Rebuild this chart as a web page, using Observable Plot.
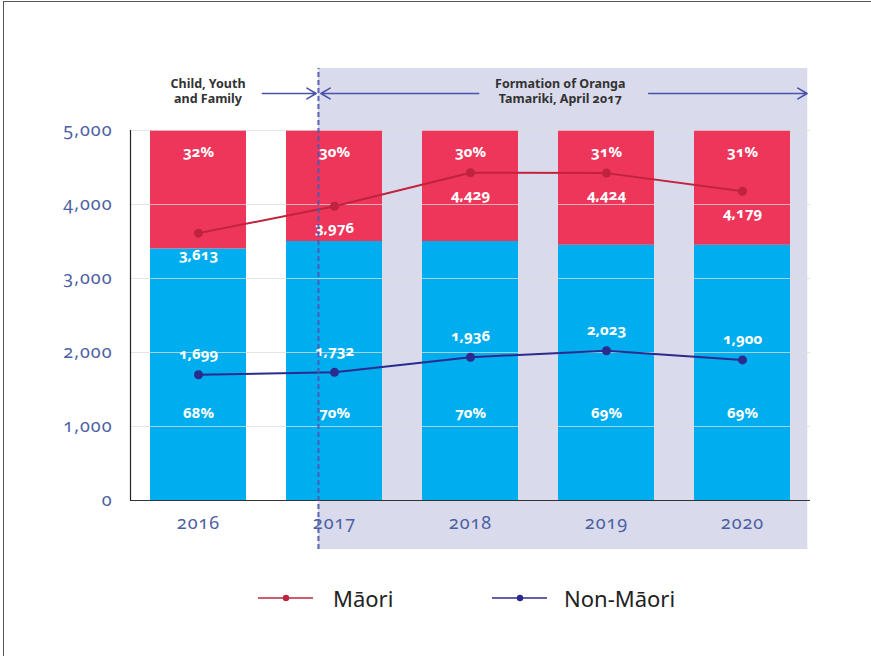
<!DOCTYPE html>
<html>
<head>
<meta charset="utf-8">
<script src="https://cdn.jsdelivr.net/npm/d3@7"></script>
<script src="https://cdn.jsdelivr.net/npm/@observablehq/plot@0.6"></script>
<style>
  html, body { margin: 0; padding: 0; background: #fff; }
  #wrap { position: relative; width: 871px; height: 656px; overflow: hidden; font-family: "Noto Sans", Lato, sans-serif; }
  #frame { position: absolute; left: 3px; top: 1px; width: 880px; height: 700px; border-left: 1.5px solid #555; border-top: 1.5px solid #555; pointer-events: none; }
  #chart svg { display: block; font-variant-numeric: oldstyle-nums; }
  #chart g[aria-label^="y-axis"], #chart g[aria-label^="x-axis"] { color: #4d5fa3; fill: #4d5fa3; font-size: 18px; letter-spacing: 1px; font-variant-numeric: oldstyle-nums; font-variant: oldstyle-nums; }
  #chart g[aria-label^="y-axis"] text, #chart g[aria-label^="x-axis"] text { font-variant-numeric: oldstyle-nums; }
  #legend { position: absolute; left: 0; top: 560px; width: 871px; height: 96px; }
  .item { position: absolute; top: 23px; display: flex; align-items: center; font-size: 22px; color: #222; }
</style>
</head>
<body>
<div id="wrap">
  <div id="chart"></div>
  <div id="legend"></div>
  <div id="frame"></div>
</div>
<script>
// ---- data ----
const years = [2016, 2017, 2018, 2019, 2020];
const maoriPct = [32, 30, 30, 31, 31];
const nonMaoriPct = [68, 70, 70, 69, 69];
const maoriCount = [3613, 3976, 4429, 4424, 4179];
const nonMaoriCount = [1699, 1732, 1936, 2023, 1900];
const yTicks = [0, 1000, 2000, 3000, 4000, 5000];
const barTotal = 5000;

// annotation data (positions on the year axis and count axis)
const changeYear = 2016.882;           // Oranga Tamariki formation marker
const shadeEnd = 2020.48;
const shadeTop = 5838, shadeBottom = -662;
const annotationLabels = [
  {x: 2016.07, y: 5540, text: "Child, Youth\nand Family"},
  {x: 2018.66, y: 5540, text: "Formation of Oranga\nTamariki, April 2017"}
];
const annotationArrows = [
  {x1: 2016.47, x2: 2016.865, y: 5500},
  {x1: 2018.06, x2: 2016.90, y: 5500},
  {x1: 2019.31, x2: 2020.475, y: 5500}
];

const colors = {
  red: "#ee355a", blue: "#00aeef", maori: "#c0243c", nonMaori: "#2b2b8f",
  shade: "#d9dbed", grid: "#dcdcdc", dash: "#4e58b0", arrow: "#4a52a8", axisText: "#4d5fa3"
};

const rows = years.map((year, i) => ({
  year,
  nonMaoriTop: nonMaoriPct[i] / 100 * barTotal,
  maoriPct: maoriPct[i],
  nonMaoriPct: nonMaoriPct[i],
  maori: maoriCount[i],
  nonMaori: nonMaoriCount[i]
}));
const fmt = d3.format(",");
const hasAxisMarks = typeof Plot.axisX === "function";

const axisMarks = hasAxisMarks ? [
  Plot.axisX({ticks: years, tickFormat: d => String(d), tickSize: 0, tickPadding: 16, label: null, fill: colors.axisText, fontSize: 18}),
  Plot.axisY({ticks: yTicks, tickFormat: d => fmt(d), tickSize: 0, tickPadding: 18, label: null, fill: colors.axisText, fontSize: 18})
] : [
  Plot.text(years, {x: d => d, y: 0, dy: 24, text: d => String(d), fill: colors.axisText, fontSize: 18})
];

const plot = Plot.plot({
  width: 871,
  height: 560,
  marginLeft: 130,
  marginRight: 61,
  marginTop: 130,
  marginBottom: 60,
  style: {fontFamily: "'Noto Sans', Lato, sans-serif", fontSize: "12px", background: "transparent"},
  x: {type: "linear", domain: [2015.5, 2020.5], ticks: years, tickFormat: d => String(d), tickSize: 0, tickPadding: 16, label: null, axis: hasAxisMarks ? undefined : null},
  y: {domain: [0, 5000], ticks: yTicks, tickFormat: d => fmt(d), tickSize: 0, tickPadding: 18, label: null},
  marks: [
    // shaded period
    Plot.rect([{}], {x1: changeYear, x2: shadeEnd, y1: shadeBottom, y2: shadeTop, fill: colors.shade}),
    // bars
    Plot.rectY(rows, {x1: d => d.year - 0.5, x2: d => d.year + 0.5, y1: 0, y2: "nonMaoriTop", fill: colors.blue, insetLeft: 20, insetRight: 20}),
    Plot.rectY(rows, {x1: d => d.year - 0.5, x2: d => d.year + 0.5, y1: "nonMaoriTop", y2: barTotal, fill: colors.red, insetLeft: 20, insetRight: 20}),
    // grid over bars
    Plot.ruleY(yTicks.filter(t => t > 0), {stroke: colors.grid, strokeOpacity: 0.75, strokeWidth: 1}),
    // axes lines
    Plot.ruleY([0], {stroke: "#333", strokeWidth: 1.2}),
    Plot.ruleX([2015.5], {y1: 0, y2: 5000, stroke: "#222", strokeWidth: 1.2}),
    // percent labels
    Plot.text(rows, {x: "year", y: barTotal, dy: 22, text: d => d.maoriPct + "%", fill: "white", fontSize: 15, fontWeight: "bold"}),
    Plot.text(rows, {x: "year", y: 0, dy: -87, text: d => d.nonMaoriPct + "%", fill: "white", fontSize: 15, fontWeight: "bold"}),
    // lines
    Plot.line(rows, {x: "year", y: "maori", stroke: colors.maori, strokeWidth: 2}),
    Plot.dot(rows, {x: "year", y: "maori", fill: colors.maori, r: 4.5}),
    Plot.line(rows, {x: "year", y: "nonMaori", stroke: colors.nonMaori, strokeWidth: 2}),
    Plot.dot(rows, {x: "year", y: "nonMaori", fill: colors.nonMaori, r: 4.5}),
    Plot.text(rows, {x: "year", y: "maori", dy: 22, text: d => fmt(d.maori), fill: "white", fontSize: 15, fontWeight: "bold"}),
    Plot.text(rows, {x: "year", y: "nonMaori", dy: -21, text: d => fmt(d.nonMaori), fill: "white", fontSize: 15, fontWeight: "bold"}),
    // change marker
    Plot.ruleX([changeYear], {y1: shadeBottom, y2: shadeTop, stroke: colors.dash, strokeWidth: 2.2, strokeDasharray: "5,3", strokeOpacity: 0.85}),
    // annotations
    Plot.arrow(annotationArrows, {x1: "x1", x2: "x2", y1: "y", y2: "y", stroke: colors.arrow, strokeWidth: 1.6, headLength: 10}),
    Plot.text(annotationLabels, {x: "x", y: "y", text: "text", fill: "#333", fontSize: 12.5, fontWeight: "bold", lineHeight: 1.25}),
    ...axisMarks
  ]
});
document.getElementById("chart").appendChild(plot);

// legend
const legendItems = [
  {label: "Māori", color: colors.maori, left: 258, gap: 20},
  {label: "Non-Māori", color: colors.nonMaori, left: 492, gap: 17}
];
const legend = document.getElementById("legend");
for (const it of legendItems) {
  const div = document.createElement("div");
  div.className = "item";
  div.style.left = it.left + "px";
  div.innerHTML = `<svg width="55" height="28" style="margin-right:${it.gap}px"><line x1="0" x2="55" y1="14" y2="14" stroke="${it.color}" stroke-width="1.6"/><circle cx="28" cy="14" r="3.2" fill="${it.color}"/></svg><span>${it.label}</span>`;
  legend.appendChild(div);
}
</script>
</body>
</html>
